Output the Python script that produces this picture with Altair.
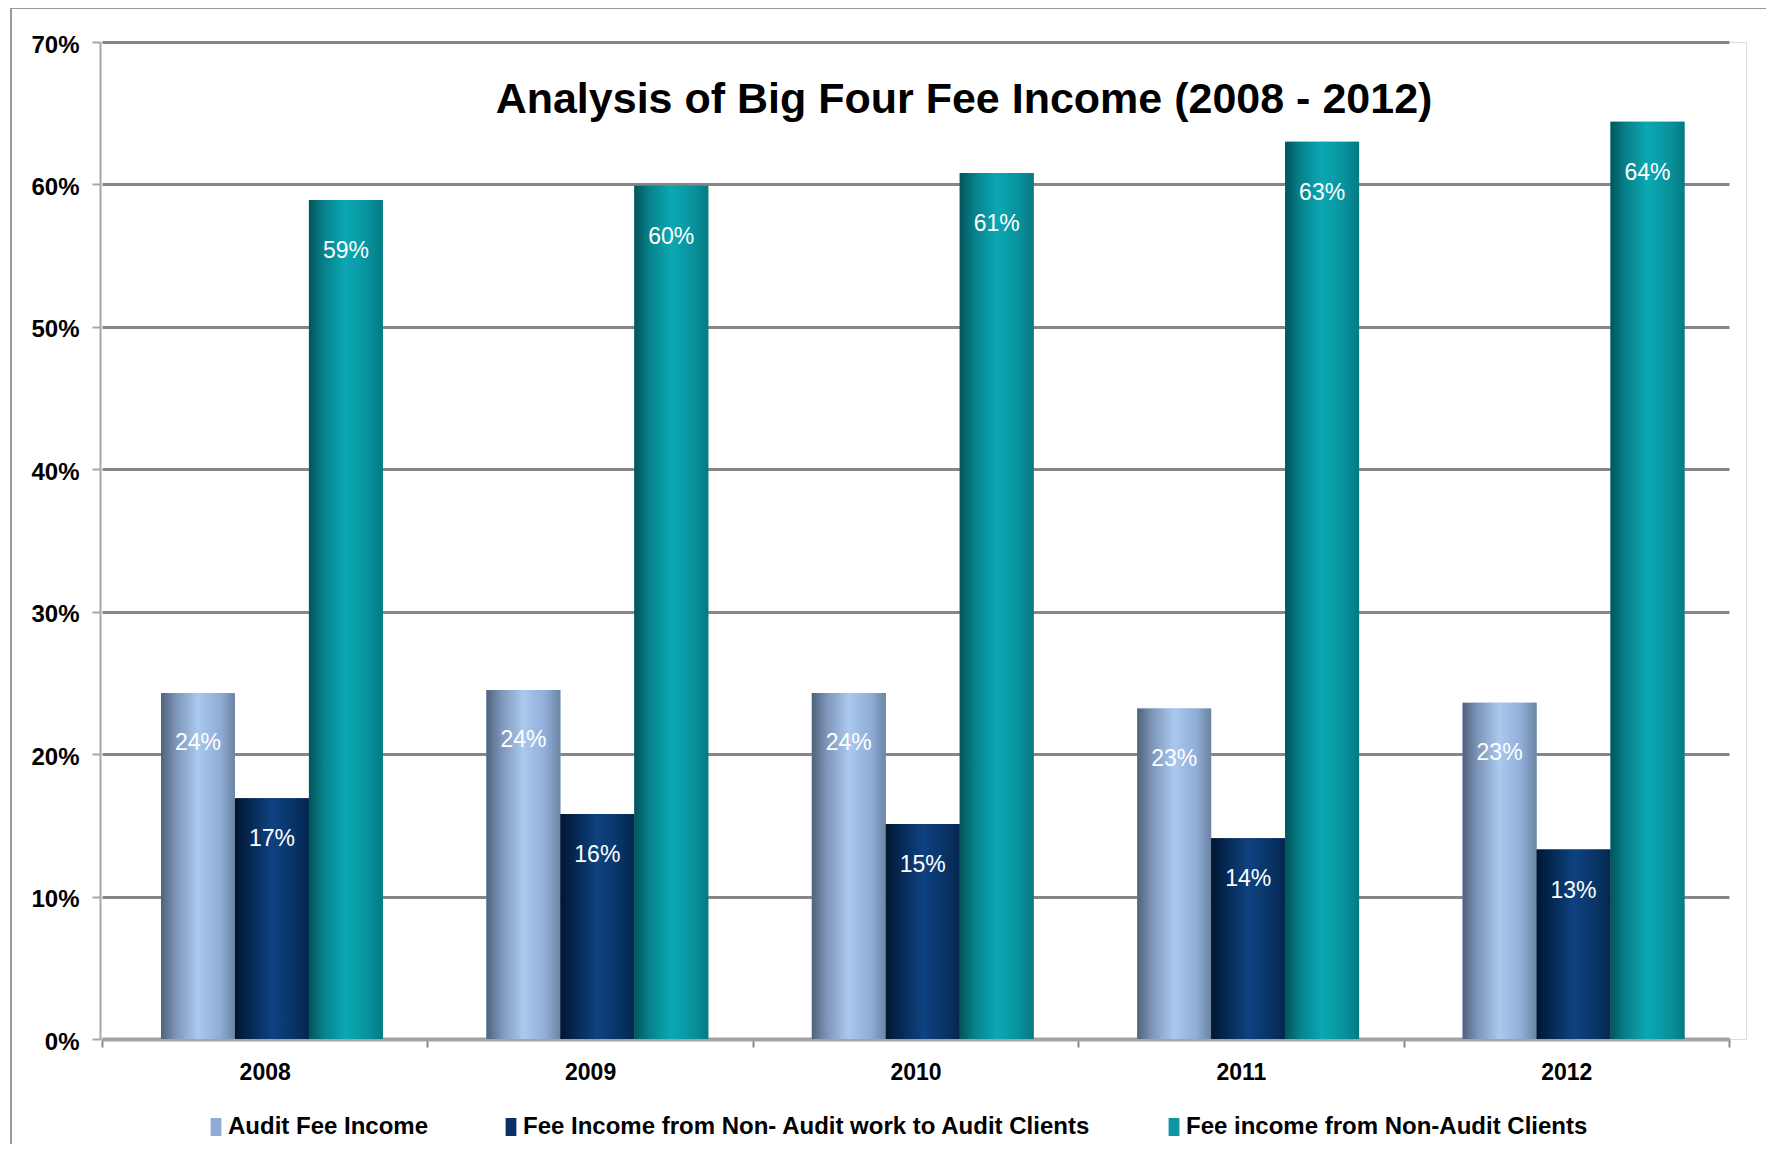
import altair as alt
import pandas as pd

years = ["2008", "2009", "2010", "2011", "2012"]
series = [
    "Audit Fee Income",
    "Fee Income from Non- Audit work to Audit Clients",
    "Fee income from Non-Audit Clients",
]
audit_fee = [24.3, 24.5, 24.3, 23.2, 23.6]
non_audit_to_audit = [16.9, 15.8, 15.1, 14.1, 13.3]
non_audit_clients = [58.9, 59.9, 60.8, 63.0, 64.4]
audit_fee_labels = ["24%", "24%", "24%", "23%", "23%"]
non_audit_to_audit_labels = ["17%", "16%", "15%", "14%", "13%"]
non_audit_clients_labels = ["59%", "60%", "61%", "63%", "64%"]
title_text = "Analysis of Big Four Fee Income (2008 - 2012)"

rows = []
for vals, labs, s in [
    (audit_fee, audit_fee_labels, series[0]),
    (non_audit_to_audit, non_audit_to_audit_labels, series[1]),
    (non_audit_clients, non_audit_clients_labels, series[2]),
]:
    for y, v, l in zip(years, vals, labs):
        rows.append({"year": y, "series": s, "value": v, "label": l})
df = pd.DataFrame(rows)

legend_colors = ["#8eaad6", "#0b2f62", "#0d95a2"]
FONT = "Liberation Sans"


def grad(stops):
    return alt.Gradient(
        gradient="linear",
        stops=[alt.GradientStop(color=c, offset=o) for o, c in stops],
        x1=0, x2=1, y1=0, y2=0,
    )


grads = [
    grad([(0, "#4e627c"), (0.2, "#7c95b8"), (0.5, "#abc9ee"), (0.8, "#8fadd6"), (1, "#6c84a4")]),
    grad([(0, "#011630"), (0.2, "#052853"), (0.5, "#0f4280"), (0.8, "#083466"), (1, "#04264f")]),
    grad([(0, "#03545a"), (0.2, "#07818a"), (0.5, "#0ba8b4"), (0.8, "#08929c"), (1, "#067a82")]),
]
label_dy = [50, 41, 51]

x_enc = alt.X(
    "year:N",
    sort=years,
    scale=alt.Scale(range=[2, 1629], paddingInner=0, paddingOuter=0),
    axis=alt.Axis(
        title=None,
        labelFont=FONT,
        labelFontSize=23,
        labelFontWeight="bold",
        labelColor="#000000",
        labelAngle=0,
        labelPadding=14,
        domainColor="#a3a3a3",
        domainWidth=4,
        tickColor="#8a8a8a",
        tickWidth=2,
        tickSize=8,
        tickBand="extent",
        grid=False,
    ),
)
xoff = alt.XOffset(
    "series:N",
    sort=series,
    scale=alt.Scale(paddingInner=0, paddingOuter=0.7, align=0.57),
)
y_enc = alt.Y(
    "value:Q",
    scale=alt.Scale(domain=[0, 70], nice=False),
    axis=alt.Axis(
        title=None,
        values=[0, 10, 20, 30, 40, 50, 60, 70],
        labelExpr="datum.value + '%'",
        labelFont=FONT,
        labelFontSize=24,
        labelFontWeight="bold",
        labelColor="#000000",
        labelPadding=13,
        labelOffset=3,
        domainColor="#a6a6a6",
        domainWidth=2,
        tickColor="#a6a6a6",
        tickSize=8,
        tickWidth=2,
        gridColor="#868686",
        gridWidth=3,
    ),
)

base = alt.Chart(df)

legend_bars = base.mark_bar().encode(
    x=x_enc,
    xOffset=xoff,
    y=y_enc,
    color=alt.Color(
        "series:N",
        sort=series,
        scale=alt.Scale(domain=series, range=legend_colors),
        legend=alt.Legend(
            title=None,
            orient="none",
            legendX=104,
            legendY=1073,
            direction="horizontal",
            symbolType="M-0.6,-1H0.6V1H-0.6Z",
            symbolSize=324,
            symbolStrokeWidth=0,
            labelFont=FONT,
            labelFontSize=24,
            labelFontWeight="bold",
            labelColor="#000000",
            labelOffset=0,
            columnPadding=70,
            labelLimit=800,
        ),
    ),
)

layers = [legend_bars]
for s, g in zip(series, grads):
    layers.append(
        base.transform_filter(alt.datum.series == s)
        .mark_bar(color=g)
        .encode(x=x_enc, xOffset=xoff, y=y_enc)
    )
for s, d in zip(series, label_dy):
    layers.append(
        base.transform_filter(alt.datum.series == s)
        .mark_text(color="white", font=FONT, fontSize=23, baseline="middle", dy=d)
        .encode(x=x_enc, xOffset=xoff, y=y_enc, text="label:N")
    )

one = alt.Data(values=[{"a": 1}])
title_mark = alt.Chart(one).mark_text(
    text=title_text,
    font=FONT,
    fontSize=43,
    fontWeight="bold",
    color="#000000",
    align="center",
    baseline="middle",
).encode(x=alt.value(864), y=alt.value(58))
frame_left = alt.Chart(one).mark_rule(color="#9a9a9a", strokeWidth=2).encode(
    x=alt.value(-89), y=alt.value(-34), y2=alt.value(1200)
)
frame_top = alt.Chart(one).mark_rule(color="#9a9a9a", strokeWidth=2).encode(
    x=alt.value(-89), x2=alt.value(1700), y=alt.value(-34)
)
layers += [title_mark, frame_left, frame_top]

chart = (
    alt.layer(*layers)
    .properties(
        width=1646,
        height=997,
        autosize=alt.AutoSizeParams(type="none"),
        padding={"left": 92, "top": 34, "right": 20, "bottom": 105},
    )
    .configure_view(stroke=None)
    .configure(background="white")
)

chart.save("out.html", embed_options={"renderer": "svg", "actions": False})
